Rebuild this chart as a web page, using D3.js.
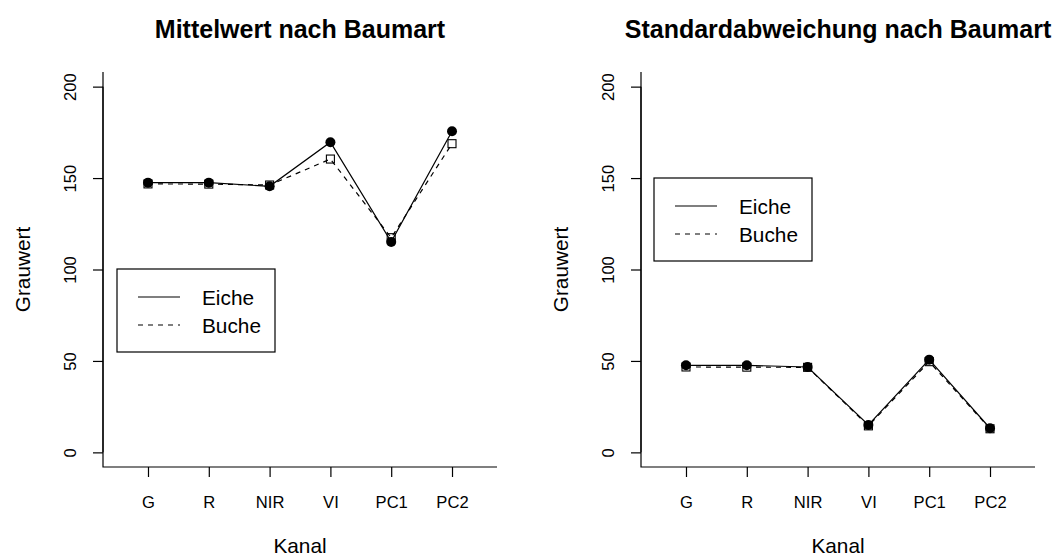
<!DOCTYPE html>
<html>
<head>
<meta charset="utf-8">
<script src="https://cdn.jsdelivr.net/npm/d3@7"></script>
<style>
  html, body { margin: 0; padding: 0; background: #fff; }
  svg { display: block; font-family: "Liberation Sans", Arial, Helvetica, sans-serif; }
</style>
</head>
<body>
<svg id="chart" width="1058" height="557"></svg>
<script>
// Channels on the x axis
const channels = ["G", "R", "NIR", "VI", "PC1", "PC2"];
// Mean grey value per channel
const meanEiche = [147.5, 147.5, 145.5, 169.6, 115.1, 175.6];
const meanBuche = [146.8, 146.7, 146.2, 160.4, 117.4, 168.8];
// Standard deviation per channel
const sdEiche = [47.6, 47.6, 46.7, 15.0, 50.7, 13.2];
const sdBuche = [46.7, 46.6, 46.5, 14.5, 49.6, 12.9];
// Y tick values and legend labels
const yTicks = [0, 50, 100, 150, 200];
const speciesNames = ["Eiche", "Buche"];

const svg = d3.select("#chart");

const panels = [
  { title: "Mittelwert nach Baumart", eiche: meanEiche, buche: meanBuche,
    left: 103, legendX: 117, legendY: 269 },
  { title: "Standardabweichung nach Baumart", eiche: sdEiche, buche: sdBuche,
    left: 641, legendX: 654, legendY: 178 }
];

const plotW = 394, plotTop = 72, plotBottom = 467;
const lw = 1.2;

panels.forEach(p => {
  const g = svg.append("g");
  const x = d3.scaleLinear().domain([0.26, 6.74]).range([p.left, p.left + plotW]);
  const y = d3.scaleLinear().domain([-8, 208]).range([plotBottom, plotTop]);
  const cx = (p.left + p.left + plotW) / 2;
  const cy = (plotTop + plotBottom) / 2;

  // L-shaped frame
  g.append("path")
    .attr("d", `M${p.left},${plotTop}V${plotBottom}H${p.left + plotW}`)
    .attr("fill", "none").attr("stroke", "#000").attr("stroke-width", lw);

  // x axis
  const xAxis = g.append("g").attr("transform", `translate(0,${plotBottom})`)
    .call(d3.axisBottom(x).tickValues(d3.range(1, channels.length + 1))
      .tickFormat(i => channels[i - 1]).tickSize(10).tickSizeOuter(0));
  xAxis.select(".domain").remove();
  xAxis.selectAll(".tick line").attr("stroke-width", lw);
  xAxis.selectAll(".tick text")
    .attr("y", 41).attr("dy", 0)
    .attr("font-size", 16.6).attr("font-family", "Liberation Sans, Arial, sans-serif")
    .attr("fill", "#000");

  // y axis
  const yAxis = g.append("g").attr("transform", `translate(${p.left},0)`)
    .call(d3.axisLeft(y).tickValues(yTicks).tickSize(10).tickSizeOuter(0));
  yAxis.select(".domain").remove();
  g.append("line")
    .attr("x1", p.left).attr("x2", p.left)
    .attr("y1", y(yTicks[0])).attr("y2", y(yTicks[yTicks.length - 1]))
    .attr("stroke", "#000").attr("stroke-width", lw);
  yAxis.selectAll(".tick line").attr("stroke-width", lw);
  yAxis.selectAll(".tick text")
    .attr("x", null).attr("dy", null)
    .attr("text-anchor", "middle")
    .attr("transform", "translate(-27,0) rotate(-90)")
    .attr("font-size", 16.6).attr("font-family", "Liberation Sans, Arial, sans-serif")
    .attr("fill", "#000");

  // Axis titles and panel title
  g.append("text").attr("x", cx).attr("y", 553).attr("text-anchor", "middle")
    .attr("font-size", 20.8).text("Kanal");
  g.append("text")
    .attr("transform", `translate(${p.left - 73},${cy}) rotate(-90)`)
    .attr("text-anchor", "middle").attr("font-size", 20.8).text("Grauwert");
  g.append("text").attr("x", cx).attr("y", 38).attr("text-anchor", "middle")
    .attr("font-size", 25).attr("font-weight", "bold").text(p.title);

  const line = d3.line().x((d, i) => x(i + 1)).y(d => y(d));

  // Buche: dashed line with open squares
  g.append("path").datum(p.buche).attr("d", line)
    .attr("fill", "none").attr("stroke", "#000").attr("stroke-width", lw)
    .attr("stroke-dasharray", "5,5");
  g.selectAll(".sq").data(p.buche).join("rect")
    .attr("x", (d, i) => x(i + 1) - 4).attr("y", d => y(d) - 4)
    .attr("width", 8).attr("height", 8)
    .attr("fill", "none").attr("stroke", "#000").attr("stroke-width", 1.1);

  // Eiche: solid line with filled circles
  g.append("path").datum(p.eiche).attr("d", line)
    .attr("fill", "none").attr("stroke", "#000").attr("stroke-width", lw);
  g.selectAll(".dot").data(p.eiche).join("circle")
    .attr("cx", (d, i) => x(i + 1)).attr("cy", d => y(d)).attr("r", 5)
    .attr("fill", "#000");

  // Legend
  const lg = g.append("g").attr("transform", `translate(${p.legendX},${p.legendY})`);
  lg.append("rect").attr("width", 158).attr("height", 83)
    .attr("fill", "#fff").attr("stroke", "#000").attr("stroke-width", lw);
  speciesNames.forEach((name, k) => {
    const ly = 28 + k * 28;
    lg.append("line").attr("x1", 21).attr("x2", 63).attr("y1", ly).attr("y2", ly)
      .attr("stroke", "#000").attr("stroke-width", lw)
      .attr("stroke-dasharray", k === 1 ? "5,5" : null);
    lg.append("text").attr("x", 85).attr("y", ly + 8).attr("font-size", 20.8).text(name);
  });
});
</script>
</body>
</html>
